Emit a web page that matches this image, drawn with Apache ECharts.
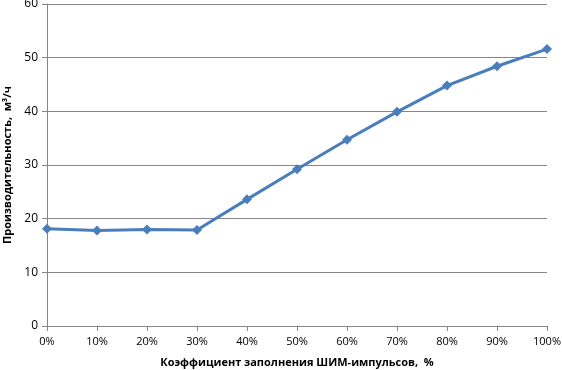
<!DOCTYPE html>
<html><head><meta charset="utf-8">
<script src="https://cdn.jsdelivr.net/npm/echarts@6/dist/echarts.min.js"></script>
<style>html,body{margin:0;padding:0;background:#fff}#c{width:562px;height:370px}</style>
</head><body><div id="c"></div>
<script>
const categories = ['0%','10%','20%','30%','40%','50%','60%','70%','80%','90%','100%'];
const values = [18.1, 17.8, 18.0, 17.9, 23.6, 29.2, 34.7, 39.9, 44.8, 48.4, 51.6];
const yTicks = {min: 0, max: 60, interval: 10};
const xTitle = 'Коэффициент заполнения ШИМ-импульсов,  %';
const yTitle = 'Производительность,  м³/ч';

const chart = echarts.init(document.getElementById('c'), null, {renderer: 'canvas'});
const font = 'Open Sans';
chart.setOption({
  animation: false,
  grid: {left: 47, right: 15, top: 4, bottom: 44, containLabel: false, outerBoundsMode: 'none'},
  xAxis: {
    type: 'category', data: categories, boundaryGap: false,
    axisLine: {lineStyle: {color: '#868686', width: 1}},
    axisTick: {show: true, alignWithLabel: true, length: 5, lineStyle: {color: '#868686'}},
    axisLabel: {color: '#000', fontFamily: font, fontSize: 11, margin: 10},
    name: xTitle, nameLocation: 'middle', nameGap: 31,
    nameTextStyle: {color: '#000', fontFamily: font, fontSize: 11, fontWeight: 'bold'}
  },
  yAxis: {
    type: 'value', min: yTicks.min, max: yTicks.max, interval: yTicks.interval,
    axisLine: {show: true, lineStyle: {color: '#868686', width: 1}},
    axisTick: {show: true, length: 5, lineStyle: {color: '#868686'}},
    splitLine: {lineStyle: {color: '#868686', width: 1}},
    axisLabel: {color: '#000', fontFamily: font, fontSize: 12, margin: 9},
    name: yTitle, nameLocation: 'middle', nameGap: 33, nameRotate: 90,
    nameTextStyle: {color: '#000', fontFamily: font, fontSize: 11, fontWeight: 'bold'}
  },
  series: [{
    type: 'line', data: values,
    symbol: 'diamond', symbolSize: 10,
    lineStyle: {color: '#4a7ebb', width: 3},
    itemStyle: {color: '#4a7ebb'}
  }]
});
</script></body></html>
